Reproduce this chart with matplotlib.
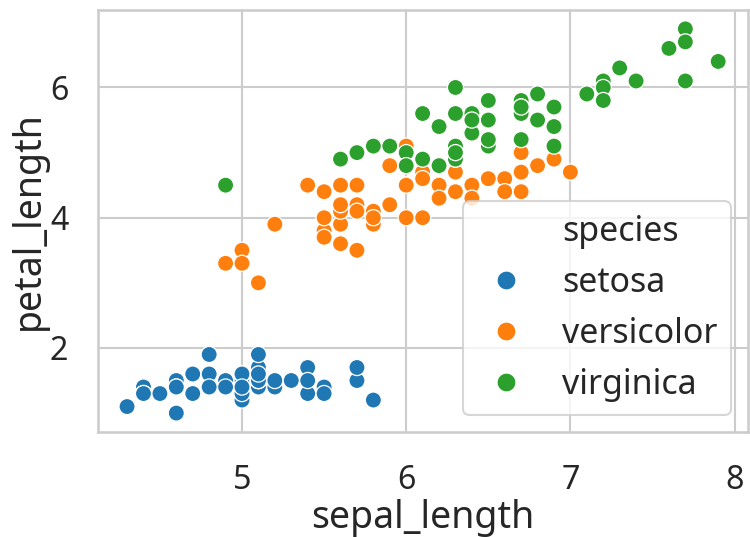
import matplotlib
matplotlib.use("Agg")
import matplotlib.pyplot as plt
from matplotlib.lines import Line2D
import seaborn as sns
import pandas as pd

# iris: sepal_length / petal_length per species
setosa_sepal = [5.1, 4.9, 4.7, 4.6, 5.0, 5.4, 4.6, 5.0, 4.4, 4.9,
                5.4, 4.8, 4.8, 4.3, 5.8, 5.7, 5.4, 5.1, 5.7, 5.1,
                5.4, 5.1, 4.6, 5.1, 4.8, 5.0, 5.0, 5.2, 5.2, 4.7,
                4.8, 5.4, 5.2, 5.5, 4.9, 5.0, 5.5, 4.9, 4.4, 5.1,
                5.0, 4.5, 4.4, 5.0, 5.1, 4.8, 5.1, 4.6, 5.3, 5.0]
setosa_petal = [1.4, 1.4, 1.3, 1.5, 1.4, 1.7, 1.4, 1.5, 1.4, 1.5,
                1.5, 1.6, 1.4, 1.1, 1.2, 1.5, 1.3, 1.4, 1.7, 1.5,
                1.7, 1.5, 1.0, 1.7, 1.9, 1.6, 1.6, 1.5, 1.4, 1.6,
                1.6, 1.5, 1.5, 1.4, 1.5, 1.2, 1.3, 1.4, 1.3, 1.5,
                1.3, 1.3, 1.3, 1.6, 1.9, 1.4, 1.6, 1.4, 1.5, 1.4]

versicolor_sepal = [7.0, 6.4, 6.9, 5.5, 6.5, 5.7, 6.3, 4.9, 6.6, 5.2,
                    5.0, 5.9, 6.0, 6.1, 5.6, 6.7, 5.6, 5.8, 6.2, 5.6,
                    5.9, 6.1, 6.3, 6.1, 6.4, 6.6, 6.8, 6.7, 6.0, 5.7,
                    5.5, 5.5, 5.8, 6.0, 5.4, 6.0, 6.7, 6.3, 5.6, 5.5,
                    5.5, 6.1, 5.8, 5.0, 5.6, 5.7, 5.7, 6.2, 5.1, 5.7]
versicolor_petal = [4.7, 4.5, 4.9, 4.0, 4.6, 4.5, 4.7, 3.3, 4.6, 3.9,
                    3.5, 4.2, 4.0, 4.7, 3.6, 4.4, 4.5, 4.1, 4.5, 3.9,
                    4.8, 4.0, 4.9, 4.7, 4.3, 4.4, 4.8, 5.0, 4.5, 3.5,
                    3.8, 3.7, 3.9, 5.1, 4.5, 4.5, 4.7, 4.4, 4.1, 4.0,
                    4.4, 4.6, 4.0, 3.3, 4.2, 4.2, 4.2, 4.3, 3.0, 4.1]

virginica_sepal = [6.3, 5.8, 7.1, 6.3, 6.5, 7.6, 4.9, 7.3, 6.7, 7.2,
                   6.5, 6.4, 6.8, 5.7, 5.8, 6.4, 6.5, 7.7, 7.7, 6.0,
                   6.9, 5.6, 7.7, 6.3, 6.7, 7.2, 6.2, 6.1, 6.4, 7.2,
                   7.4, 7.9, 6.4, 6.3, 6.1, 7.7, 6.3, 6.4, 6.0, 6.9,
                   6.7, 6.9, 5.8, 6.8, 6.7, 6.7, 6.3, 6.5, 6.2, 5.9]
virginica_petal = [6.0, 5.1, 5.9, 5.6, 5.8, 6.6, 4.5, 6.3, 5.8, 6.1,
                   5.1, 5.3, 5.5, 5.0, 5.1, 5.3, 5.5, 6.7, 6.9, 5.0,
                   5.7, 4.9, 6.7, 4.9, 5.7, 6.0, 4.8, 4.9, 5.6, 5.8,
                   6.1, 6.4, 5.6, 5.1, 5.6, 6.1, 5.6, 5.5, 4.8, 5.4,
                   5.6, 5.1, 5.1, 5.9, 5.7, 5.2, 5.0, 5.2, 5.4, 5.1]

species_names = ["setosa", "versicolor", "virginica"]
colors = sns.color_palette("tab10", 3)

df = pd.DataFrame({
    "sepal_length": setosa_sepal + versicolor_sepal + virginica_sepal,
    "petal_length": setosa_petal + versicolor_petal + virginica_petal,
    "species": [species_names[0]] * len(setosa_sepal)
               + [species_names[1]] * len(versicolor_sepal)
               + [species_names[2]] * len(virginica_sepal),
})

sns.set_theme(style="whitegrid")
plt.rcParams['font.family'] = ['Noto Sans', 'DejaVu Sans']
plt.rcParams['xtick.labelsize'] = 15.5
plt.rcParams['ytick.labelsize'] = 15.5
plt.rcParams['xtick.major.pad'] = 9
plt.rcParams['ytick.major.pad'] = 8
plt.rcParams['axes.labelsize'] = 18
plt.rcParams['axes.labelpad'] = 1

fig, ax = plt.subplots(figsize=(5, 3.58), dpi=150)
sns.scatterplot(data=df, x="sepal_length", y="petal_length", hue="species",
                palette=colors, s=60, ax=ax, legend=False)
ax.set_xticks([5, 6, 7, 8])
ax.set_yticks([2, 4, 6])

# old-style seaborn legend: hue name as a blank first entry
handles = [Line2D([], [], linestyle="none", marker="")]
for c in colors:
    handles.append(Line2D([], [], linestyle="none", marker="o", markersize=9.5,
                          markerfacecolor=c, markeredgecolor="white"))
ax.legend(handles, ["species"] + species_names, loc="lower right", fontsize=16.3,
          handlelength=1.7)

fig.subplots_adjust(left=0.13, right=0.997, top=0.982, bottom=0.195)
fig.savefig("out.png")
